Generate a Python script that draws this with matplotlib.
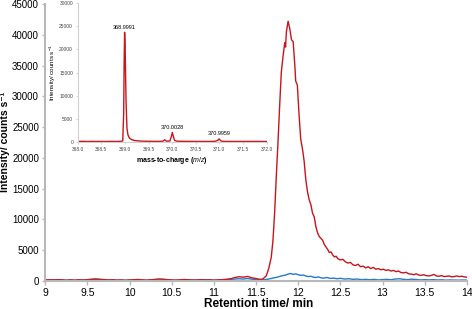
import matplotlib
matplotlib.use("Agg")
import matplotlib.pyplot as plt

plt.rcParams['font.family'] = ['Liberation Sans', 'DejaVu Sans']
plt.rcParams['mathtext.fontset'] = 'custom'
plt.rcParams['mathtext.rm'] = 'Liberation Sans'
plt.rcParams['mathtext.bf'] = 'Liberation Sans:bold'
plt.rcParams['mathtext.it'] = 'Liberation Sans:italic'

# chromatogram, red trace
t_red = [9.00, 9.05, 9.10, 9.15, 9.20, 9.25, 9.30, 9.35, 9.40, 9.45, 9.50, 9.55, 9.60, 9.65, 9.70,
         9.75, 9.80, 9.85, 9.90, 9.95, 10.00, 10.05, 10.10, 10.15, 10.20, 10.25, 10.30, 10.35, 10.40,
         10.45, 10.50, 10.55, 10.60, 10.65, 10.70, 10.75, 10.80, 10.85, 10.90, 10.95, 11.00, 11.05,
         11.10, 11.15, 11.20, 11.25, 11.30, 11.35, 11.40, 11.45, 11.50, 11.55, 11.58, 11.62, 11.65,
         11.68, 11.70, 11.72, 11.74, 11.76, 11.78, 11.80, 11.82, 11.84, 11.85, 11.86, 11.88, 11.90,
         11.92, 11.94, 11.96, 11.97, 11.99, 12.01, 12.03, 12.05, 12.07, 12.09, 12.11, 12.13, 12.15,
         12.17, 12.19, 12.21, 12.23, 12.25, 12.27, 12.29, 12.31, 12.33, 12.35, 12.37, 12.39, 12.41,
         12.43, 12.45, 12.47, 12.50, 12.53, 12.56, 12.59, 12.62, 12.65, 12.68, 12.71, 12.74, 12.77,
         12.80, 12.83, 12.86, 12.89, 12.92, 12.95, 12.98, 13.01, 13.04, 13.07, 13.10, 13.13, 13.16,
         13.19, 13.22, 13.25, 13.28, 13.31, 13.34, 13.37, 13.40, 13.43, 13.46, 13.49, 13.52, 13.55,
         13.58, 13.61, 13.64, 13.67, 13.70, 13.73, 13.76, 13.79, 13.82, 13.85, 13.88, 13.91, 13.94,
         13.97, 14.00]
i_red = [150, 180, 120, 200, 150, 100, 160, 120, 180, 140, 200, 280, 320, 260, 200,
         150, 180, 120, 150, 100, 140, 180, 230, 160, 120, 180, 240, 320, 280,
         200, 150, 120, 170, 220, 180, 140, 160, 200, 150, 180, 120, 170,
         200, 260, 350, 550, 680, 600, 720, 500, 380, 250, 300, 800, 2000,
         3800, 6500, 11000, 17000, 22500, 28500, 34000, 36500, 38700, 38000, 40500, 42200, 41000,
         39200, 38900, 35000, 32500, 31800, 27000, 23000, 21500, 19500, 16500, 14500, 13200, 12400,
         11000, 10400, 8800, 7800, 7200, 6900, 6600, 5900, 5500, 5100, 4600, 4700, 4200,
         3900, 4000, 3600, 3400, 3500, 3100, 2900, 3000, 2600, 2500, 2700, 2300, 2400,
         2100, 2300, 2000, 2200, 1900, 2000, 1800, 1900, 1700, 1800, 1600, 1700, 1500,
         1600, 1350, 1300, 1400, 1150, 1100, 1000, 1150, 950, 900, 1000, 850, 800,
         900, 1050, 800, 750, 850, 700, 750, 800, 650, 700, 800, 700, 750,
         650, 600]

# chromatogram, blue trace
t_blue = [9.00, 9.05, 9.10, 9.15, 9.20, 9.25, 9.30, 9.35, 9.40, 9.45, 9.50, 9.55, 9.60, 9.65, 9.70,
          9.75, 9.80, 9.85, 9.90, 9.95, 10.00, 10.05, 10.10, 10.15, 10.20, 10.25, 10.30, 10.35, 10.40,
          10.45, 10.50, 10.55, 10.60, 10.65, 10.70, 10.75, 10.80, 10.85, 10.90, 10.95, 11.00, 11.05,
          11.10, 11.15, 11.20, 11.25, 11.30, 11.35, 11.40, 11.45, 11.50, 11.55, 11.60, 11.65, 11.70,
          11.75, 11.80, 11.85, 11.88, 11.91, 11.94, 11.97, 12.00, 12.03, 12.06, 12.09, 12.12, 12.15,
          12.18, 12.21, 12.24, 12.27, 12.30, 12.34, 12.38, 12.42, 12.46, 12.50, 12.55, 12.60, 12.65,
          12.70, 12.75, 12.80, 12.85, 12.90, 12.95, 13.00, 13.05, 13.10, 13.15, 13.20, 13.25, 13.30,
          13.35, 13.40, 13.45, 13.50, 13.55, 13.60, 13.65, 13.70, 13.75, 13.80, 13.85, 13.90, 13.95,
          14.00]
i_blue = [100, 150, 200, 120, 180, 100, 150, 90, 130, 110, 150, 200, 230, 180, 150,
          120, 160, 100, 130, 90, 120, 150, 110, 130, 90, 140, 180, 150, 200,
          160, 120, 100, 130, 110, 150, 120, 100, 140, 180, 130, 100, 120,
          150, 200, 250, 300, 350, 300, 380, 280, 200, 150, 180, 300, 450,
          600, 800, 950, 1100, 1200, 1050, 1150, 1000, 900, 950, 800, 700, 750,
          600, 550, 650, 500, 450, 550, 400, 450, 350, 420, 300, 350, 250,
          300, 200, 250, 180, 240, 150, 200, 250, 180, 300, 350, 250, 200,
          280, 220, 150, 200, 160, 200, 150, 180, 120, 150, 130, 110, 140,
          120]

# inset mass spectrum
mz = [368.00, 368.10, 368.20, 368.30, 368.40, 368.50, 368.60, 368.70, 368.80, 368.90, 368.95,
      368.97, 368.98, 368.99, 369.00, 369.02, 369.04, 369.06, 369.08, 369.10, 369.15, 369.20,
      369.30, 369.40, 369.50, 369.60, 369.70, 369.80, 369.84, 369.88, 369.95, 369.98, 370.00,
      370.02, 370.05, 370.10, 370.30, 370.50, 370.70, 370.90, 370.96, 370.99, 371.02, 371.06,
      371.30, 371.60, 372.00]
ms_int = [150, 180, 140, 170, 150, 160, 140, 170, 150, 180, 250,
          6000, 17000, 23700, 21000, 9000, 3000, 1600, 1100, 800, 500, 350,
          250, 200, 180, 170, 160, 200, 500, 200, 250, 1200, 2100,
          1300, 350, 200, 170, 160, 150, 170, 350, 700, 350, 170,
          150, 160, 150]
peak_mz = [368.99, 370.00, 370.99]
peak_int = [23700, 2100, 700]
peak_labels = ['368.9991', '370.0028', '370.9959']

red = '#c8141c'
blue = '#2479c9'
grey = '#b8b8b8'

fig = plt.figure(figsize=(4.72, 3.09), dpi=100)
ax = fig.add_axes([0.096, 0.091, 0.893, 0.896])
ax.plot(t_blue, i_blue, color=blue, lw=1.0)
ax.plot(t_red, i_red, color=red, lw=1.0)
ax.set_xlim(9, 14)
ax.set_ylim(0, 45000)
ax.set_xticks([9, 9.5, 10, 10.5, 11, 11.5, 12, 12.5, 13, 13.5, 14])
ax.set_xticklabels(['9', '9.5', '10', '10.5', '11', '11.5', '12', '12.5', '13', '13.5', '14'])
ax.set_yticks(range(0, 45001, 5000))
for s in ['top', 'right']:
    ax.spines[s].set_visible(False)
for s in ['left', 'bottom']:
    ax.spines[s].set_color(grey)
    ax.spines[s].set_linewidth(1.5)
ax.tick_params(axis='both', colors=grey, labelcolor='black', labelsize=7.5, length=3, width=1)
ax.tick_params(axis='x', pad=2)
ax.tick_params(axis='y', labelsize=7, length=2.5, pad=2)

fig.text(259 / 472, 1 - 304 / 309, 'Retention time/ min', fontsize=8.5, fontweight='bold',
         ha='center', va='center')
fig.text(0.0, 0.54, 'Intensity/ counts s\u207b\u00b9', fontsize=7.5, fontweight='bold',
         rotation=90, ha='left', va='center')

ins = fig.add_axes([0.165, 0.540, 0.400, 0.450])
ins.plot(mz, ms_int, color=red, lw=1.0)
ins.set_xlim(368.0, 372.0)
ins.set_ylim(0, 30000)
ins.set_xticks([368.0, 368.5, 369.0, 369.5, 370.0, 370.5, 371.0, 371.5, 372.0])
ins.set_xticklabels(['368.0', '368.5', '369.0', '369.5', '370.0', '370.5', '371.0', '371.5', '372.0'])
ins.set_yticks(range(0, 30001, 5000))
ins.patch.set_alpha(0)
for s in ['top', 'right']:
    ins.spines[s].set_visible(False)
for s in ['left', 'bottom']:
    ins.spines[s].set_color('#d0d0d0')
    ins.spines[s].set_linewidth(0.8)
ins.tick_params(axis='both', colors='#d0d0d0', labelcolor='#444444', labelsize=3.5, length=1.5, width=0.6, pad=2)
ins.set_xlabel(r'mass-to-charge ($\mathit{m/z}$)', fontsize=5, fontweight='bold', labelpad=2)
ins.set_ylabel(r'Intensity/ counts s$^{-1}$', fontsize=4.5, labelpad=1)
for x, y, lab in zip(peak_mz, peak_int, peak_labels):
    ins.annotate(lab, (x, y), xytext=(0, 2), textcoords='offset points',
                 ha='center', va='bottom', fontsize=4)

fig.savefig('out.png', dpi=100)
